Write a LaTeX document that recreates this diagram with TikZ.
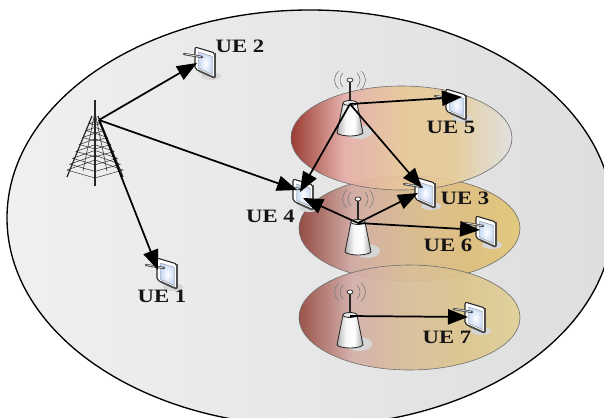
\documentclass[tikz,border=0pt]{standalone}
\usepackage{fontspec}
\usetikzlibrary{arrows.meta,calc}
\newfontfamily\uefont[FakeStretch=1.2]{Liberation Serif}
\definecolor{edge}{HTML}{6E6E6E}
\definecolor{screenblue}{rgb}{.78,.85,.96}
\pgfdeclarehorizontalshading{bigcell}{100bp}{rgb(0bp)=(.94,.94,.94);rgb(25bp)=(.94,.94,.94);rgb(75bp)=(.87,.87,.87);rgb(100bp)=(.87,.87,.87)}
\pgfdeclarehorizontalshading{cellA}{100bp}{rgb(0bp)=(.58,.18,.14);rgb(25bp)=(.58,.18,.14);rgb(37bp)=(.90,.68,.66);rgb(50bp)=(.91,.78,.60);rgb(62bp)=(.90,.80,.60);rgb(75bp)=(.88,.88,.88);rgb(100bp)=(.88,.88,.88)}
\pgfdeclarehorizontalshading{cellB}{100bp}{rgb(0bp)=(.55,.25,.22);rgb(25bp)=(.55,.25,.22);rgb(37bp)=(.82,.66,.63);rgb(50bp)=(.85,.73,.55);rgb(62bp)=(.87,.74,.48);rgb(75bp)=(.88,.78,.46);rgb(100bp)=(.88,.78,.46)}
\pgfdeclarehorizontalshading{cellC}{100bp}{rgb(0bp)=(.58,.28,.24);rgb(25bp)=(.58,.28,.24);rgb(37bp)=(.83,.68,.66);rgb(50bp)=(.85,.75,.60);rgb(62bp)=(.86,.77,.55);rgb(75bp)=(.88,.82,.60);rgb(100bp)=(.88,.82,.60)}
\pgfdeclarehorizontalshading{conebody}{100bp}{rgb(0bp)=(.70,.70,.70);rgb(25bp)=(.70,.70,.70);rgb(42bp)=(.97,.97,.97);rgb(58bp)=(1,1,1);rgb(75bp)=(.66,.66,.66);rgb(100bp)=(.66,.66,.66)}
\tikzset{
  conn/.style={line width=1.3pt,black,-{Triangle[length=15pt,width=11.5pt]}},
  cell/.style={draw=edge,line width=.45pt,fill opacity=.92},
  uelabel/.style={font=\uefont\bfseries\fontsize{14.2}{15}\selectfont,inner sep=0pt,text=black!92},
  tabletdev/.pic={
    \fill[black!16] (6,14) ellipse (10 and 4);
    \draw[black!85,line width=.8pt,fill=white,rounded corners=1.5pt] (-10,-15) -- (10,-9) -- (10,16) -- (-10,7) -- cycle;
    \draw[black!70,line width=1.3pt,rounded corners=1pt] (10,-9) -- (10,16) -- (-6,9);
    \shade[inner color=white,outer color=screenblue,draw=black!45,line width=.3pt] (-6.5,-10) -- (7.5,-5.5) -- (7.5,12.5) -- (-6.5,6.5) -- cycle;
    \draw[black!75,line width=1.7pt,line cap=round] (-21,-8) -- (-3,-5);
    \draw[white!85!black,line width=.6pt,line cap=round] (-20,-8) -- (-4,-5.2);
  },
  basestation/.pic={
    \fill[black!16] (9,29) ellipse (13 and 7);
    \draw[black!85,line width=.8pt] (0,0) -- (0,-22);
    \draw[black!85,fill=white,line width=.5pt] (0,-23) ellipse (3 and 2);
    \draw[black!50,line width=.5pt]
      (-7,-30) .. controls (-11,-26) and (-11,-20) .. (-7,-16)
      (7,-30) .. controls (11,-26) and (11,-20) .. (7,-16)
      (-11,-32) .. controls (-17,-27) and (-17,-19) .. (-11,-14)
      (11,-32) .. controls (17,-27) and (17,-19) .. (11,-14);
    \draw[black!85,line width=.6pt,shading=conebody] (-7,0) -- (-13,30) .. controls (-9,34) and (9,34) .. (13,30) -- (7,0) -- cycle;
    \draw[black!85,line width=.6pt,fill=black!10] (0,0) ellipse (7 and 2.5);
  }
}
\begin{document}
\begin{tikzpicture}[x=0.75pt,y=-0.75pt]
\useasboundingbox (0,0) rectangle (604,418);
\clip (0,0) rectangle (604,418);
\fill[white] (0,0) rectangle (604,418);
% network area
\draw[black,line width=1pt,shading=bigcell] (310,218) ellipse (303 and 208);
% cells
\draw[cell,shading=cellB] (409.5,228.5) ellipse (110.5 and 52.5);
\draw[cell,shading=cellA] (401.5,138) ellipse (110.5 and 52);
\draw[cell,shading=cellC] (409.5,317.5) ellipse (110.5 and 52.5);
% tower
\coordinate (tower) at (99,120);
\begin{scope}[black!85]
  \draw[line width=.9pt] (95,100) -- (95,186);
  \draw[line width=.9pt] (92,116) -- (67,177);
  \draw[line width=.9pt] (98,116) -- (123,177);
  \foreach \t in {.2,.32,.44,.56,.68,.8,.9,1}{
    \draw[line width=.35pt] ({95-28*\t},{112+58*\t}) -- (95,{112+66*\t}) -- ({95+28*\t},{112+58*\t}) -- (95,{112+48*\t}) -- cycle;
  }
  \draw[line width=.4pt] (95,112) -- (83,171) (95,112) -- (107,171);
\end{scope}
% base stations
\path (350,103) pic {basestation};
\path (358,222) pic {basestation};
\path (350,315) pic {basestation};
\coordinate (bsa) at (350,104);
\coordinate (bsb) at (358,223);
\coordinate (bsc) at (350,316);
% user equipment
\path (167,273) pic {tabletdev};
\path (205,62) pic {tabletdev};
\path (425,192) pic {tabletdev};
\path (303,194) pic {tabletdev};
\path (456,104) pic {tabletdev};
\path (486,231) pic {tabletdev};
\path (475,317) pic {tabletdev};
\coordinate (ueA) at (158,270);
\coordinate (ueB) at (197,63);
\coordinate (ueC1) at (422,188);
\coordinate (ueC2) at (418,193);
\coordinate (ueD0) at (297,190);
\coordinate (ueD1) at (300,192);
\coordinate (ueD2) at (303,198);
\coordinate (ueE) at (462,97);
\coordinate (ueF) at (480,230);
\coordinate (ueG) at (468,317);
% connectors
\draw[conn] (tower) -- (ueA);
\draw[conn] (tower) -- (ueB);
\draw[conn] (tower) -- (ueD0);
\draw[conn] (bsa) -- (ueE);
\draw[conn] (bsa) -- (ueC1);
\draw[conn] (bsa) -- (ueD1);
\draw[conn] (bsb) -- (ueD2);
\draw[conn] (bsb) -- (ueC2);
\draw[conn] (bsb) -- (ueF);
\draw[conn] (bsc) -- (ueG);
% labels
\node[uelabel] (l1) at (162,296) {UE 1};
\node[uelabel] (l2) at (240,46) {UE 2};
\node[uelabel] (l3) at (465,198) {UE 3};
\node[uelabel] (l4) at (270.5,216) {UE 4};
\node[uelabel] (l5) at (451,127) {UE 5};
\node[uelabel] (l6) at (448,245) {UE 6};
\node[uelabel] (l7) at (447,337) {UE 7};
\end{tikzpicture}
\end{document}
